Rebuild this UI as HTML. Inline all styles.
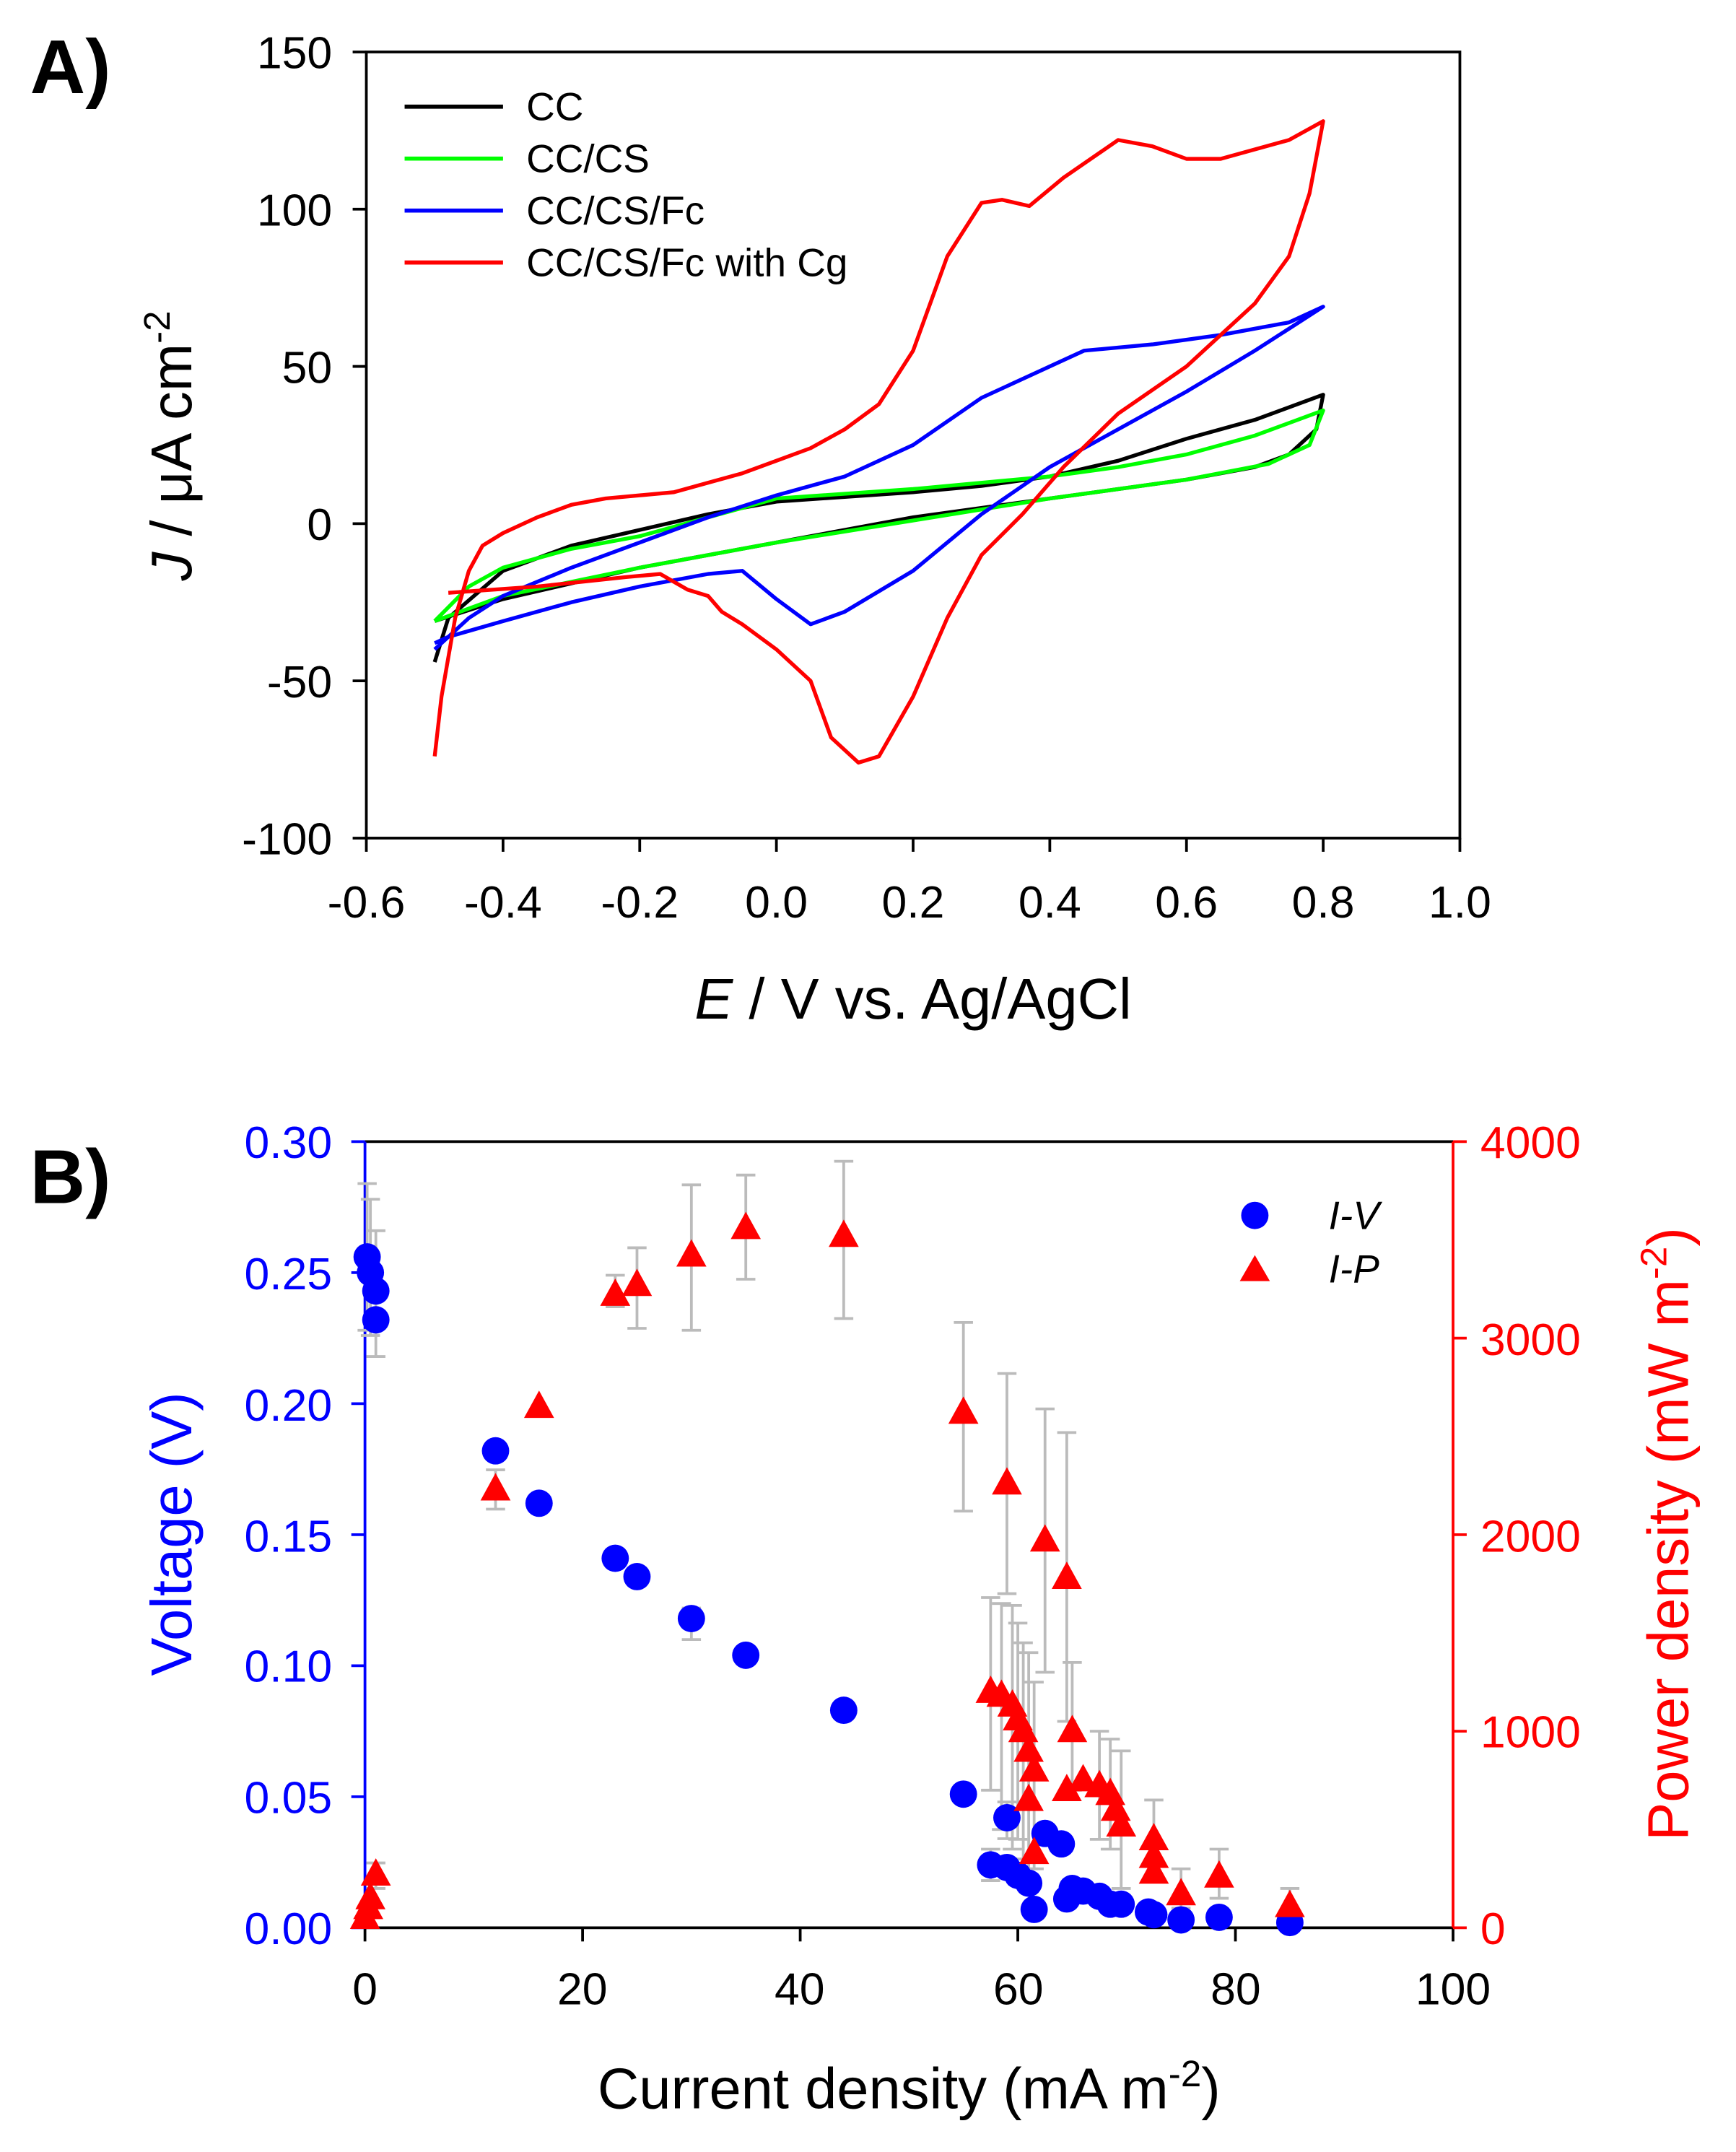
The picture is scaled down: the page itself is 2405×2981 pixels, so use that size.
<!DOCTYPE html>
<html><head><meta charset="utf-8"><style>
html,body{margin:0;padding:0;background:#fff}
svg{display:block}
text{font-family:"Liberation Sans",Arial,sans-serif}
</style></head><body>
<svg id="s" width="2405" height="2981" viewBox="0 0 1270 1574" preserveAspectRatio="none" xmlns="http://www.w3.org/2000/svg">
<rect width="1270" height="1574" fill="#fff"/>
<text x="22" y="68" font-size="56" font-weight="bold">A)</text>
<text x="22" y="880" font-size="56" font-weight="bold">B)</text>
<rect x="268" y="38" width="800" height="575" fill="none" stroke="#000" stroke-width="2"/>
<g id="a"></g>
<g font-size="33" text-anchor="end">
<text x="243" y="50">150</text><text x="243" y="165">100</text><text x="243" y="280">50</text><text x="243" y="395">0</text><text x="243" y="510">-50</text><text x="243" y="625">-100</text>
</g>
<g font-size="33" text-anchor="middle">
<text x="268" y="671">-0.6</text><text x="368" y="671">-0.4</text><text x="468" y="671">-0.2</text><text x="568" y="671">0.0</text><text x="668" y="671">0.2</text><text x="768" y="671">0.4</text><text x="868" y="671">0.6</text><text x="968" y="671">0.8</text><text x="1068" y="671">1.0</text>
</g>
<text x="668" y="745" font-size="42" text-anchor="middle"><tspan font-style="italic">E</tspan> / V vs. Ag/AgCl</text>
<text transform="translate(140,326) rotate(-90)" font-size="42" text-anchor="middle"><tspan font-style="italic">J</tspan> / μA cm<tspan dy="-16" font-size="27">-2</tspan></text>
<g font-size="29">
<line x1="296" y1="78" x2="368" y2="78" stroke="#000" stroke-width="3"/><text x="385" y="88">CC</text>
<line x1="296" y1="116" x2="368" y2="116" stroke="#0f0" stroke-width="3"/><text x="385" y="126">CC/CS</text>
<line x1="296" y1="154" x2="368" y2="154" stroke="#00f" stroke-width="3"/><text x="385" y="164">CC/CS/Fc</text>
<line x1="296" y1="192" x2="368" y2="192" stroke="#f00" stroke-width="3"/><text x="385" y="202">CC/CS/Fc with Cg</text>
</g>
<line x1="267" y1="835" x2="1063" y2="835" stroke="#000" stroke-width="2"/>
<line x1="267" y1="1410" x2="1063" y2="1410" stroke="#000" stroke-width="2"/>
<line x1="267" y1="835" x2="267" y2="1410" stroke="#00f" stroke-width="2"/>
<line x1="1063" y1="835" x2="1063" y2="1410" stroke="#f00" stroke-width="2"/>
<g id="b"></g>
<g font-size="33" text-anchor="end" fill="#00f">
<text x="243" y="847">0.30</text><text x="243" y="943">0.25</text><text x="243" y="1039">0.20</text><text x="243" y="1135">0.15</text><text x="243" y="1230">0.10</text><text x="243" y="1326">0.05</text><text x="243" y="1422">0.00</text>
</g>
<g font-size="33" fill="#f00">
<text x="1083" y="847">4000</text><text x="1083" y="991">3000</text><text x="1083" y="1135">2000</text><text x="1083" y="1278">1000</text><text x="1083" y="1422">0</text>
</g>
<g font-size="33" text-anchor="middle">
<text x="267" y="1466">0</text><text x="426" y="1466">20</text><text x="585" y="1466">40</text><text x="745" y="1466">60</text><text x="904" y="1466">80</text><text x="1063" y="1466">100</text>
</g>
<text x="665" y="1542" font-size="42" text-anchor="middle">Current density (mA m<tspan dy="-16" font-size="27">-2</tspan><tspan dy="16">)</tspan></text>
<text transform="translate(140,1122) rotate(-90)" font-size="42" text-anchor="middle" fill="#00f">Voltage (V)</text>
<text transform="translate(1235,1122) rotate(-90)" font-size="42" text-anchor="middle" fill="#f00">Power density (mW m<tspan dy="-16" font-size="27">-2</tspan><tspan dy="16">)</tspan></text>
<circle cx="918" cy="889" r="10" fill="#00f"/><text x="972" y="899" font-size="29" font-style="italic">I-V</text>
<polygon points="918,918 929,937 907,937" fill="#f00"/><text x="972" y="938" font-size="29" font-style="italic">I-P</text>
</svg>
<script>
var NS="http://www.w3.org/2000/svg";
function el(p,t,a){var e=document.createElementNS(NS,t);for(var k in a)e.setAttribute(k,a[k]);p.appendChild(e);return e;}
var A=document.getElementById('a'),B=document.getElementById('b');
[-0.6,-0.4,-0.2,0,0.2,0.4,0.6,0.8,1.0].forEach(function(v){var x=268+(v+0.6)*500;el(A,'line',{x1:x,y1:613,x2:x,y2:623,stroke:'#000','stroke-width':2});});
[150,100,50,0,-50,-100].forEach(function(j){var y=38+(150-j)*2.3;el(A,'line',{x1:258,y1:y,x2:268,y2:y,stroke:'#000','stroke-width':2});});
function XA(v){return 268+(v+0.6)*500}function YA(j){return 38+(150-j)*2.3}
function curve(pts,col){var d=pts.map(function(p,i){return (i?'L':'M')+XA(p[0]).toFixed(1)+','+YA(p[1]).toFixed(1)}).join('');el(A,'path',{d:d,fill:'none',stroke:col,'stroke-width':2.8,'stroke-linejoin':'round'});}
curve([[-0.5,-44],[-0.48,-30],[-0.4,-15],[-0.3,-7],[-0.2,-2],[-0.1,3],[0,7],[0.2,10],[0.3,12],[0.4,15],[0.5,20],[0.6,27],[0.7,33],[0.8,41],[0.79,30],[0.75,22],[0.7,18],[0.6,14],[0.4,8],[0.2,2],[0,-6],[-0.2,-14],[-0.4,-24],[-0.5,-31]],'#000');
curve([[-0.5,-31],[-0.45,-20],[-0.4,-14],[-0.3,-8],[-0.2,-4],[-0.1,2],[0,8],[0.2,11],[0.4,15],[0.5,18],[0.6,22],[0.7,28],[0.8,36],[0.78,25],[0.72,19],[0.6,14],[0.4,8],[0.2,1],[0,-6],[-0.2,-14],[-0.4,-23],[-0.5,-31]],'#0f0');
curve([[-0.5,-40],[-0.45,-30],[-0.4,-23],[-0.3,-14],[-0.2,-6],[-0.1,2],[0,9],[0.1,15],[0.2,25],[0.3,40],[0.4,50],[0.45,55],[0.55,57],[0.65,60],[0.75,64],[0.8,69],[0.7,55],[0.6,42],[0.5,30],[0.4,18],[0.3,3],[0.2,-15],[0.1,-28],[0.05,-32],[0.0,-24],[-0.05,-15],[-0.1,-16],[-0.2,-20],[-0.3,-25],[-0.4,-31],[-0.48,-36],[-0.5,-38]],'#00f');
curve([[-0.5,-74],[-0.49,-55],[-0.47,-30],[-0.45,-15],[-0.43,-7],[-0.4,-3],[-0.35,2],[-0.3,6],[-0.25,8],[-0.15,10],[-0.1,13],[-0.05,16],[0,20],[0.05,24],[0.1,30],[0.15,38],[0.2,55],[0.25,85],[0.3,102],[0.33,103],[0.37,101],[0.42,110],[0.5,122],[0.55,120],[0.6,116],[0.65,116],[0.75,122],[0.8,128],[0.78,105],[0.75,85],[0.7,70],[0.6,50],[0.5,35],[0.42,18],[0.36,3],[0.3,-10],[0.25,-30],[0.2,-55],[0.15,-74],[0.12,-76],[0.08,-68],[0.05,-50],[0,-40],[-0.05,-32],[-0.08,-28],[-0.1,-23],[-0.13,-21],[-0.17,-16],[-0.22,-17],[-0.35,-20],[-0.48,-22]],'#f00');
function XB(c){return 267+c*7.96}function YV(v){return 1410-v*1916.7}function YP(p){return 1410-p*0.14375}
[0,20,40,60,80,100].forEach(function(c){el(B,'line',{x1:XB(c),y1:1410,x2:XB(c),y2:1420,stroke:'#000','stroke-width':2});});
[0,0.05,0.1,0.15,0.2,0.25,0.3].forEach(function(v){el(B,'line',{x1:257,y1:YV(v),x2:267,y2:YV(v),stroke:'#00f','stroke-width':2});});
[0,1000,2000,3000,4000].forEach(function(p){el(B,'line',{x1:1063,y1:YP(p),x2:1073,y2:YP(p),stroke:'#f00','stroke-width':2});});
function eb(x,y1,y2){el(B,'line',{x1:x,y1:y1,x2:x,y2:y2,stroke:'#bbb','stroke-width':2});el(B,'line',{x1:x-7,y1:y1,x2:x+7,y2:y1,stroke:'#bbb','stroke-width':2});el(B,'line',{x1:x-7,y1:y2,x2:x+7,y2:y2,stroke:'#bbb','stroke-width':2});}
[[0.2,0.284,0.228],[1,0.266,0.218],[0.5,0.278,0.226],[30,0.122,0.11],[57.5,0.03,0.018],[59,0.048,0.034]].forEach(function(e){eb(XB(e[0]),YV(e[1]),YV(e[2]));});
[[12,2330,2130],[23,3320,3160],[25,3460,3050],[30,3780,3040],[35,3830,3300],[44,3900,3100],[55,3080,2120],[59,2820,1700],[62.5,2640,1300],[64.5,2520,1050],[57.5,1680,700],[58.5,1650,500],[59.5,1640,400],[60,1550,450],[60.5,1450,350],[61,1400,300],[61.5,1250,300],[65,1350,700],[67.5,1000,450],[68.5,960,400],[69.5,900,200],[72.5,650,260],[75,300,100],[78.5,400,150],[85,200,60],[1,330,200]].forEach(function(e){eb(XB(e[0]),YP(e[1]),YP(e[2]));});
[[0.2,0.256],[0.5,0.25],[1,0.243],[1,0.232],[12,0.182],[16,0.162],[23,0.141],[25,0.134],[30,0.118],[35,0.104],[44,0.083],[55,0.051],[57.5,0.024],[59,0.042],[59,0.023],[60,0.02],[61,0.017],[61.5,0.007],[62.5,0.036],[64,0.032],[64.5,0.011],[65,0.015],[66,0.014],[67.5,0.012],[68.5,0.009],[69.5,0.009],[72,0.006],[72.5,0.005],[75,0.003],[78.5,0.004],[85,0.002]].forEach(function(p){el(B,'circle',{cx:XB(p[0]),cy:YV(p[1]),r:10,fill:'#00f'});});
[[0,50],[0.3,100],[0.5,150],[1,270],[12,2230],[16,2650],[23,3220],[25,3270],[30,3420],[35,3560],[44,3520],[55,2620],[59,2260],[62.5,1970],[64.5,1780],[57.5,1200],[58.5,1180],[59.5,1130],[60,1060],[60.5,1000],[61,900],[61.5,800],[61,650],[61.5,380],[64.5,700],[65,1000],[66,750],[67.5,720],[68.5,680],[69,600],[69.5,520],[72.5,450],[72.5,360],[72.5,280],[75,170],[78.5,260],[85,110]].forEach(function(p){var x=XB(p[0]),y=YP(p[1]);el(B,'polygon',{points:x+','+(y-12)+' '+(x+11)+','+(y+8)+' '+(x-11)+','+(y+8),fill:'#f00'});});
</script>
</body></html>
